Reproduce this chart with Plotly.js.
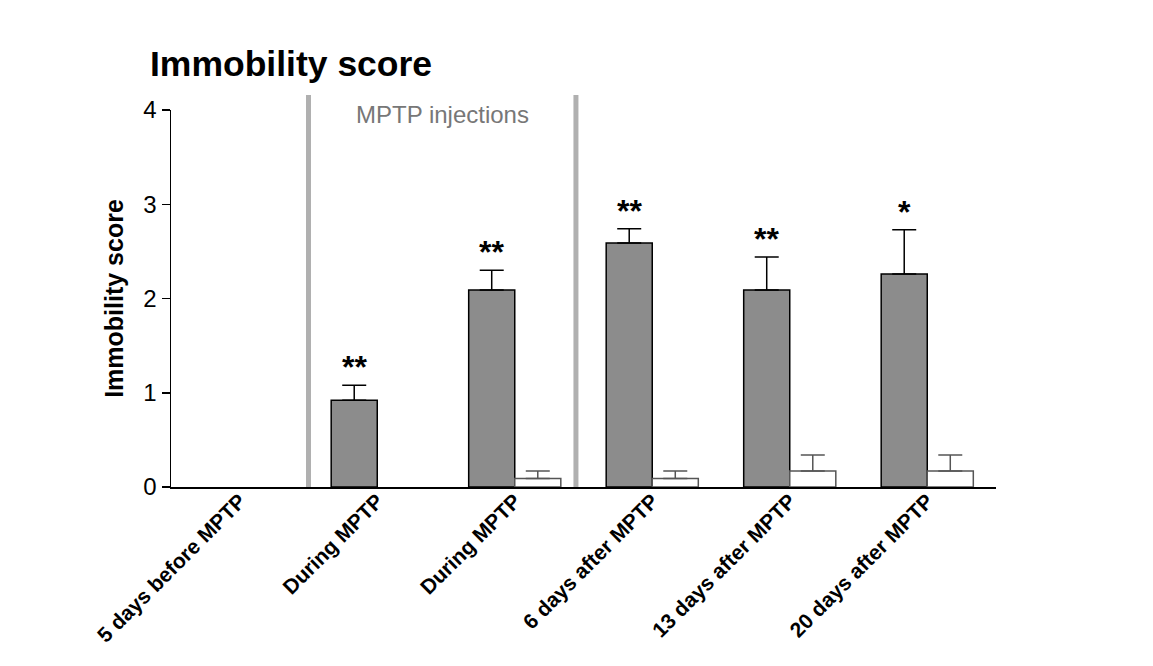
<!DOCTYPE html>
<html>
<head>
<meta charset="utf-8">
<script src="https://cdn.plot.ly/plotly-3.0.1.min.js"></script>
<style>
  html, body { margin: 0; padding: 0; background: #ffffff; }
  #chart { width: 1153px; height: 666px; }
</style>
</head>
<body>
<div id="chart"></div>
<script>
// Time points of the immobility test
const timepoints = ['5 days before MPTP', 'During MPTP', 'During MPTP',
                    '6 days after MPTP', '13 days after MPTP', '20 days after MPTP'];
const positions = [0, 1, 2, 3, 4, 5];

// MPTP-treated group (grey bars): mean and upper SEM
const mptpMean = [null, 0.92, 2.09, 2.59, 2.09, 2.26];
const mptpSem  = [null, 0.16, 0.21, 0.15, 0.35, 0.47];

// Control group (open bars): mean and upper SEM
const ctrlMean = [null, null, 0.09, 0.09, 0.17, 0.17];
const ctrlSem  = [null, null, 0.08, 0.08, 0.17, 0.17];

// Significance marks above the MPTP bars
const significance = ['', '**', '**', '**', '**', '*'];

// Boundaries of the injection period (in axis units)
const injectionStart = 0.5;
const injectionEnd = 2.445;

const FONT = 'Liberation Sans, Arial, Helvetica, sans-serif';

const traces = [
  {
    type: 'bar',
    name: 'MPTP',
    x: positions,
    y: mptpMean,
    marker: { color: '#8c8c8c', line: { color: '#000000', width: 1.5 } },
    error_y: {
      type: 'data', symmetric: false,
      array: mptpSem, arrayminus: mptpSem.map(() => 0),
      color: '#000000', thickness: 1.5, width: 12
    },
    hoverinfo: 'y'
  },
  {
    type: 'bar',
    name: 'Control',
    x: positions,
    y: ctrlMean,
    marker: { color: '#ffffff', line: { color: '#555555', width: 1.5 } },
    error_y: {
      type: 'data', symmetric: false,
      array: ctrlSem, arrayminus: ctrlSem.map(() => 0),
      color: '#555555', thickness: 1.5, width: 12
    },
    hoverinfo: 'y'
  }
];

// Stars sit above the grey bar of each group
const starAnnotations = positions
  .filter(i => significance[i] !== '')
  .map(i => ({
    x: positions[i], y: mptpMean[i] + mptpSem[i],
    xref: 'x', yref: 'y',
    xshift: -23, yshift: -2,
    xanchor: 'center', yanchor: 'bottom',
    text: significance[i], showarrow: false,
    font: { family: FONT, size: 32, color: '#000000', weight: 'bold' }
  }));

const layout = {
  width: 1153,
  height: 666,
  margin: { l: 170.7, r: 157.3, t: 110, b: 179 },
  paper_bgcolor: '#ffffff',
  plot_bgcolor: 'rgba(0,0,0,0)',
  showlegend: false,
  barmode: 'group',
  bargap: 0.33,
  bargroupgap: 0,
  title: {
    text: 'Immobility score',
    xref: 'container', yref: 'container',
    x: 150 / 1153, xanchor: 'left',
    y: 1 - 64 / 666, yanchor: 'middle',
    font: { family: FONT, size: 35.5, color: '#000000', weight: 'bold' }
  },
  xaxis: {
    range: [-0.5, 5.5],
    tickmode: 'array',
    tickvals: positions,
    ticktext: timepoints,
    tickangle: -45,
    ticks: '',
    ticklabelstandoff: -8,
    showgrid: false,
    zeroline: false,
    showline: true,
    linecolor: '#000000',
    linewidth: 1.5,
    tickfont: { family: FONT, size: 21, color: '#000000', weight: 'bold' },
    fixedrange: true
  },
  yaxis: {
    range: [0, 4],
    tickmode: 'linear',
    tick0: 0,
    dtick: 1,
    ticks: 'outside',
    ticklen: 8,
    tickwidth: 1.5,
    tickcolor: '#000000',
    showgrid: false,
    zeroline: false,
    showline: true,
    linecolor: '#000000',
    linewidth: 1.5,
    tickfont: { family: FONT, size: 24, color: '#000000' },
    title: {
      text: 'Immobility score',
      standoff: 12,
      font: { family: FONT, size: 25, color: '#000000', weight: 'bold' }
    },
    fixedrange: true
  },
  shapes: [injectionStart, injectionEnd].map(xv => ({
    type: 'line',
    xref: 'x', yref: 'paper',
    x0: xv, x1: xv, y0: 0, y1: 1.04,
    line: { color: '#b0b0b0', width: 5 },
    layer: 'below'
  })),
  annotations: [
    {
      x: (injectionStart + injectionEnd) / 2, y: 0.989,
      xref: 'x', yref: 'paper',
      xanchor: 'center', yanchor: 'middle',
      text: 'MPTP injections', showarrow: false,
      font: { family: FONT, size: 24, color: '#777777' }
    }
  ].concat(starAnnotations)
};

Plotly.newPlot('chart', traces, layout, { displayModeBar: false, staticPlot: true });
</script>
</body>
</html>
